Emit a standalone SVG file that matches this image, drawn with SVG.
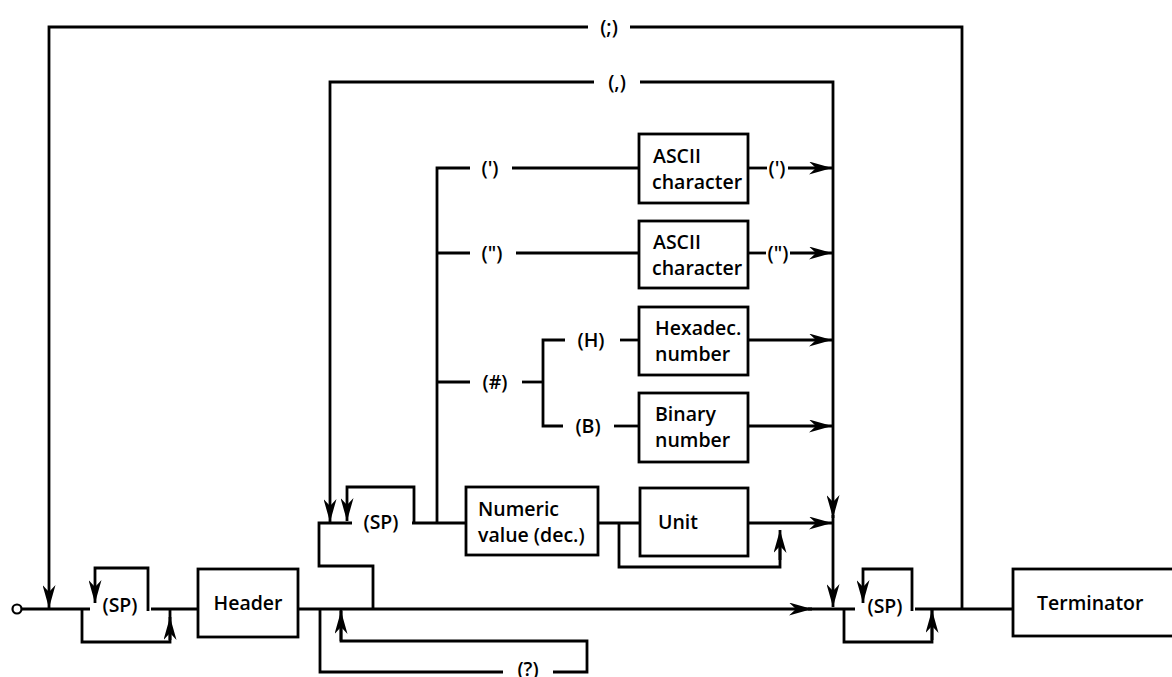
<svg xmlns="http://www.w3.org/2000/svg" width="1172" height="677" viewBox="0 0 1172 677">
<style>
.ln{fill:none;stroke:#000;stroke-width:2.8;stroke-linejoin:miter}
.ar{fill:none;stroke:#000;stroke-width:2.8;marker-end:url(#ah)}
.bx{fill:#fff;stroke:#000;stroke-width:2.8}
.t{font-family:"Open Sans","Liberation Sans",sans-serif;font-size:19.5px;font-weight:600;fill:#000}
.c{text-anchor:middle}
</style>
<defs>
<marker id="ah" viewBox="0 0 23 13" refX="23" refY="6.5" markerWidth="23" markerHeight="13" markerUnits="userSpaceOnUse" orient="auto">
<path d="M0,0 L23,6.5 L0,13 L7,6.5 Z" fill="#000"/>
</marker>
</defs>
<rect width="1172" height="677" fill="#fff"/>
<g id="connectors">
<circle cx="17" cy="609" r="4.5" fill="none" stroke="#000" stroke-width="2.2"/>
<path class="ln" d="M22,609 H90"/>
<path class="ln" d="M151,609 H198"/>
<path class="ar" d="M298,609 H812"/>
<path class="ln" d="M808,609 H855"/>
<path class="ln" d="M915,609 H1013"/>
<!-- left SP block -->
<path class="ln" d="M82,609 V642 H170 V609"/>
<path class="ar" d="M170,640 V617"/>
<path class="ar" d="M148,611 V568 H95 V603"/>
<!-- right SP block -->
<path class="ln" d="M844,609 V642 H932 V609"/>
<path class="ar" d="M932,640 V610"/>
<path class="ar" d="M912,611 V569 H863 V603"/>
<!-- (;) loop -->
<path class="ar" d="M588,27 H49 V608"/>
<path class="ln" d="M630,27 H962 V609"/>
<!-- (,) loop -->
<path class="ar" d="M594,82 H330 V522"/>
<path class="ar" d="M640,82 H833 V518"/>
<path class="ar" d="M833,515 V607"/>
<!-- (?) loop -->
<path class="ln" d="M320,609 V672 H503"/>
<path class="ln" d="M553,672 H587 V641 H341 V609"/>
<path class="ar" d="M341,641 V611"/>
<!-- bypass to SP before parameter -->
<path class="ln" d="M373,609 V566 H319 V523 H352"/>
<path class="ar" d="M414,523 V487 H347 V521"/>
<path class="ln" d="M412,523 H466"/>
<!-- bus -->
<path class="ln" d="M437,523 V168 H470"/>
<path class="ln" d="M512,168 H639"/>
<path class="ln" d="M748,168 H767"/>
<path class="ar" d="M788,168 H832"/>
<path class="ln" d="M437,253 H470"/>
<path class="ln" d="M516,253 H639"/>
<path class="ln" d="M748,253 H766"/>
<path class="ar" d="M790,253 H832"/>
<path class="ln" d="M437,382 H470"/>
<path class="ln" d="M522,382 H543"/>
<path class="ln" d="M565,340 H543 V426 H563"/>
<path class="ln" d="M620,340 H639"/>
<path class="ar" d="M748,340 H832"/>
<path class="ln" d="M614,426 H639"/>
<path class="ar" d="M748,426 H832"/>
<path class="ln" d="M598,523 H640"/>
<path class="ar" d="M748,523 H832"/>
<path class="ln" d="M619,523 V567 H780 V540"/>
<path class="ar" d="M780,560 V530"/>
</g>
<g id="lbl-semicolon"><text class="t c" x="609" y="34">(;)</text></g>
<g id="lbl-comma"><text class="t c" x="617" y="89">(,)</text></g>
<g id="lbl-sp1"><text class="t c" x="120" y="612">(SP)</text></g>
<g id="lbl-sp2"><text class="t c" x="381" y="529">(SP)</text></g>
<g id="lbl-sp3"><text class="t c" x="885" y="613">(SP)</text></g>
<g id="lbl-q"><text class="t c" x="528" y="676">(?)</text></g>
<g id="lbl-apos1"><text class="t c" x="490" y="175">(')</text></g>
<g id="lbl-apos2"><text class="t c" x="777" y="175">(')</text></g>
<g id="lbl-quot1"><text class="t c" x="492" y="260">(")</text></g>
<g id="lbl-quot2"><text class="t c" x="778" y="260">(")</text></g>
<g id="lbl-hash"><text class="t c" x="495" y="389">(#)</text></g>
<g id="lbl-h"><text class="t c" x="591" y="347">(H)</text></g>
<g id="lbl-b"><text class="t c" x="588" y="433">(B)</text></g>
<g id="header"><rect class="bx" x="198" y="569" width="100" height="68"/><text class="t c" x="248" y="610">Header</text></g>
<g id="terminator"><rect class="bx" x="1013" y="569" width="175" height="67"/><text class="t" x="1037" y="610">Terminator</text></g>
<g id="ascii1"><rect class="bx" x="639" y="134" width="109" height="69"/><text class="t" x="653" y="163">ASCII</text><text class="t" x="652" y="189">character</text></g>
<g id="ascii2"><rect class="bx" x="639" y="221" width="109" height="67"/><text class="t" x="653" y="249">ASCII</text><text class="t" x="652" y="275">character</text></g>
<g id="hex"><rect class="bx" x="639" y="307" width="109" height="68"/><text class="t" x="655" y="335">Hexadec.</text><text class="t" x="655" y="361">number</text></g>
<g id="binary"><rect class="bx" x="639" y="393" width="109" height="69"/><text class="t" x="655" y="421">Binary</text><text class="t" x="655" y="447">number</text></g>
<g id="numeric"><rect class="bx" x="466" y="487" width="132" height="68"/><text class="t" x="478" y="516">Numeric</text><text class="t" x="478" y="542">value (dec.)</text></g>
<g id="unit"><rect class="bx" x="640" y="488" width="108" height="68"/><text class="t" x="658" y="529">Unit</text></g>
</svg>
